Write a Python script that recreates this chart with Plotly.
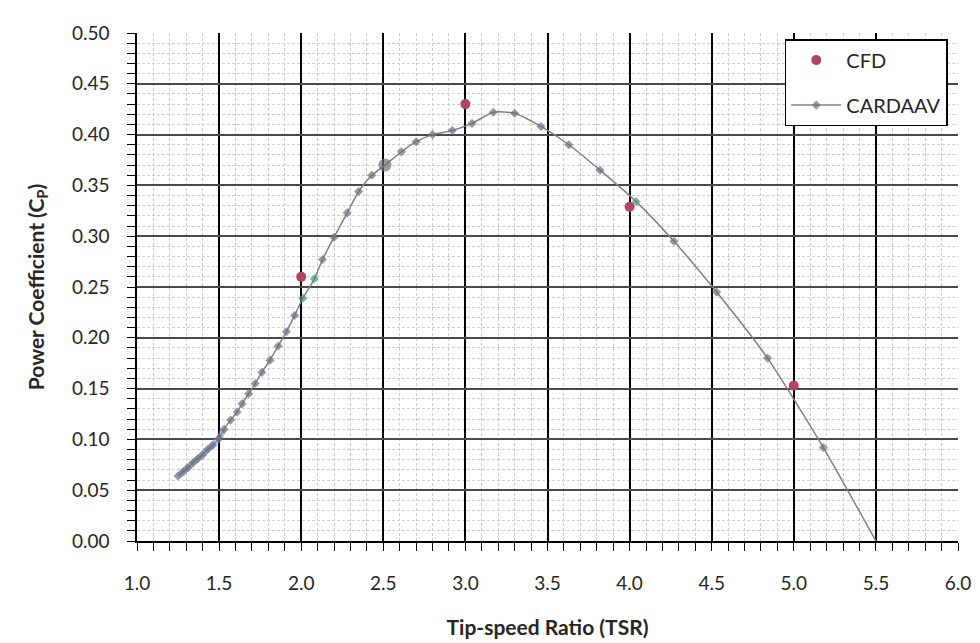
import plotly.graph_objects as go

# CFD results
tsr_cfd = [2.0, 3.0, 4.0, 5.0]
cp_cfd = [0.260, 0.430, 0.329, 0.153]

# CARDAAV prediction
tsr_cardaav = [1.25, 1.28, 1.31, 1.34, 1.37, 1.40, 1.43, 1.46, 1.50, 1.53,
               1.57, 1.61, 1.64, 1.68, 1.72, 1.76, 1.81, 1.86, 1.91, 1.96,
               2.01, 2.08, 2.13, 2.20, 2.28, 2.35, 2.43, 2.51, 2.61, 2.70,
               2.80, 2.92, 3.04, 3.17, 3.30, 3.46, 3.63, 3.82, 4.04, 4.27,
               4.53, 4.84, 5.18, 5.50]
cp_cardaav = [0.064, 0.068, 0.072, 0.077, 0.081, 0.085, 0.090, 0.094, 0.101, 0.110,
              0.119, 0.127, 0.135, 0.145, 0.155, 0.166, 0.178, 0.192, 0.206, 0.222,
              0.239, 0.258, 0.277, 0.299, 0.323, 0.344, 0.360, 0.370, 0.383, 0.393,
              0.400, 0.404, 0.411, 0.422, 0.421, 0.408, 0.390, 0.365, 0.334, 0.295,
              0.245, 0.180, 0.092, 0.000]

x_ticks = [1.0, 1.5, 2.0, 2.5, 3.0, 3.5, 4.0, 4.5, 5.0, 5.5, 6.0]
y_ticks = [0.00, 0.05, 0.10, 0.15, 0.20, 0.25, 0.30, 0.35, 0.40, 0.45, 0.50]

FONT = "Lato, 'Open Sans', sans-serif"
TXT = "#262626"

# per-point marker styling for the CARDAAV series
n = len(tsr_cardaav)
m_color = ["#6b6e7c"] * n
m_size = [7] * n
m_symbol = ["diamond"] * n
for i, t in enumerate(tsr_cardaav):
    if t in (2.01, 2.08, 4.04):
        m_color[i] = "#4f8f86"
    if t == 2.51:
        m_size[i] = 13
        m_symbol[i] = "circle"
m_size[-1] = 0

fig = go.Figure()

# low-TSR segment of the CARDAAV curve is shaded blue
k = tsr_cardaav.index(1.53) + 1
fig.add_trace(go.Scatter(
    x=tsr_cardaav[:k], y=cp_cardaav[:k], mode="lines",
    line=dict(color="rgba(110,160,215,0.55)", width=6),
    showlegend=False, hoverinfo="skip", legendgroup="band", legendrank=3))

fig.add_trace(go.Scatter(
    x=tsr_cardaav, y=cp_cardaav, mode="lines+markers", name="CARDAAV",
    legendgroup="cardaav", legendrank=2,
    line=dict(color="#7d808a", width=1.5, shape="spline", smoothing=0.6),
    marker=dict(symbol=m_symbol, size=m_size, color=m_color, line=dict(width=0))))

fig.add_trace(go.Scatter(
    x=tsr_cfd, y=cp_cfd, mode="markers", name="CFD",
    legendgroup="cfd", legendrank=1,
    marker=dict(symbol="circle", size=10, color="#b2455f", line=dict(width=0))))

axis_common = dict(
    showline=True, linecolor="black", linewidth=1.5,
    ticks="outside", ticklen=8, tickcolor="black", tickwidth=1,
    tickfont=dict(family=FONT, size=19, color=TXT),
    zeroline=False, mirror=False, automargin=False,
)

fig.update_xaxes(
    range=[1.0, 6.0], tickvals=x_ticks, ticktext=[f"{v:.1f}" for v in x_ticks],
    showgrid=True, gridcolor="black", gridwidth=2,
    ticklabelstandoff=16,
    minor=dict(dtick=0.1, tick0=1.0, showgrid=True, gridcolor="#cdcdcd",
               griddash="3px,2px", gridwidth=1, ticks="outside", ticklen=8,
               tickcolor="black"),
    title=dict(text="<b>Tip-speed Ratio (TSR)</b>",
               font=dict(family=FONT, size=21, color=TXT), standoff=28),
    **axis_common)

fig.update_yaxes(
    range=[0.0, 0.5], tickvals=y_ticks, ticktext=[f"{v:.2f}" for v in y_ticks],
    showgrid=True, gridcolor="#4a4a4a", gridwidth=1.5,
    ticklabelstandoff=14,
    minor=dict(dtick=0.01, tick0=0.0, showgrid=True, gridcolor="#d0d0d0",
               griddash="3px,2px", gridwidth=1, ticks="outside", ticklen=8,
               tickcolor="black"),
    title=dict(text="<b>Power Coefficient (C<sub>P</sub>)</b>",
               font=dict(family=FONT, size=21, color=TXT), standoff=22),
    **axis_common)

fig.update_layout(
    width=980, height=643,
    margin=dict(l=137, r=22, t=33, b=102),
    paper_bgcolor="white", plot_bgcolor="white",
    legend=dict(x=0.789, y=0.988, xanchor="left", yanchor="top",
                bgcolor="white", bordercolor="black", borderwidth=1.5,
                font=dict(family=FONT, size=20, color=TXT),
                traceorder="grouped", tracegroupgap=16,
                itemwidth=50, entrywidth=121, entrywidthmode="pixels"),
    showlegend=True,
)

fig.write_html("out.html")
